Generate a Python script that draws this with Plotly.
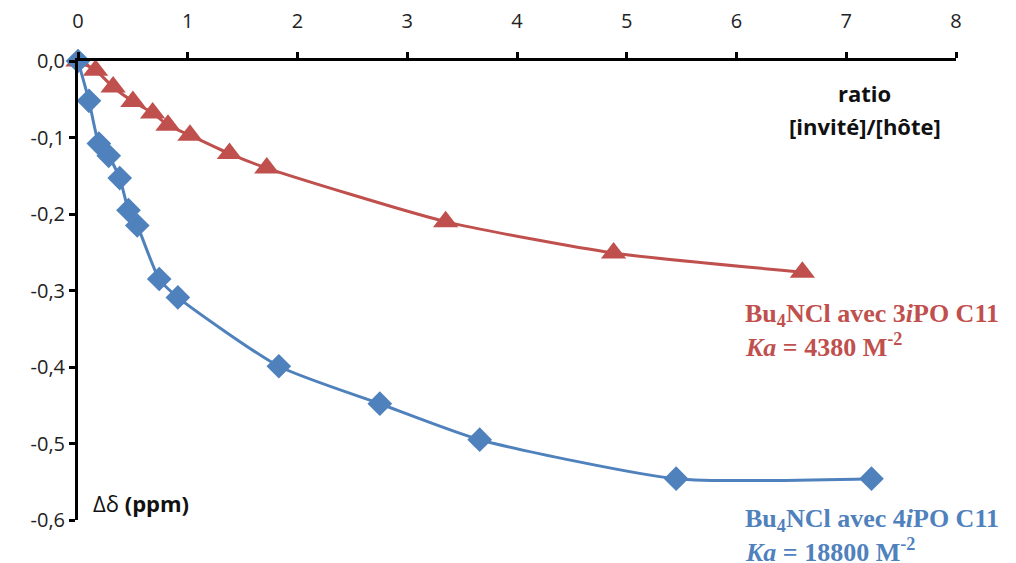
import plotly.graph_objects as go

# Blue series: Bu4NCl avec 4iPO C11
x_blue = [0, 0.10, 0.19, 0.28, 0.38, 0.46, 0.54, 0.74, 0.91, 1.83, 2.75, 3.66, 5.45, 7.23]
y_blue = [0, -0.052, -0.108, -0.124, -0.153, -0.195, -0.215, -0.285, -0.309, -0.399, -0.448, -0.495, -0.546, -0.546]

# Red series: Bu4NCl avec 3iPO C11
x_red = [0, 0.16, 0.32, 0.50, 0.68, 0.82, 1.02, 1.38, 1.72, 3.35, 4.88, 6.60]
y_red = [0, -0.012, -0.034, -0.053, -0.068, -0.084, -0.097, -0.121, -0.140, -0.210, -0.251, -0.276]

x_ticks = [0, 1, 2, 3, 4, 5, 6, 7, 8]
y_ticks = [0.0, -0.1, -0.2, -0.3, -0.4, -0.5, -0.6]
y_tick_labels = ["0,0", "-0,1", "-0,2", "-0,3", "-0,4", "-0,5", "-0,6"]

BLUE = "#4F81BD"
RED = "#C0504D"

fig = go.Figure()
fig.add_trace(go.Scatter(
    x=x_red, y=y_red, mode="lines+markers",
    line=dict(color=RED, width=3, shape="spline", smoothing=0.6),
    marker=dict(symbol="triangle-up", size=22, color=RED),
    cliponaxis=False, showlegend=False))
fig.add_trace(go.Scatter(
    x=x_blue, y=y_blue, mode="lines+markers",
    line=dict(color=BLUE, width=3, shape="spline", smoothing=0.6),
    marker=dict(symbol="diamond", size=19, color=BLUE),
    cliponaxis=False, showlegend=False))

tick_font = dict(family="Open Sans, Liberation Sans, sans-serif", size=20, color="#222")

fig.update_layout(
    width=1008, height=555,
    margin=dict(l=70, r=60, t=53, b=43),
    paper_bgcolor="white", plot_bgcolor="white",
    xaxis=dict(range=[0, 8], side="top", tickvals=x_ticks, ticks="outside",
               ticklen=6, tickwidth=3, tickcolor="black",
               showline=True, linecolor="black", linewidth=3,
               showgrid=False, zeroline=False, tickfont=tick_font,
               automargin=False, ticklabelstandoff=16),
    yaxis=dict(range=[-0.6, 0], tickvals=y_ticks, ticktext=y_tick_labels, ticks="outside",
               ticklen=6, tickwidth=3, tickcolor="black",
               showline=True, linecolor="black", linewidth=3,
               showgrid=False, zeroline=False, tickfont=tick_font,
               automargin=False),
)

ann_font = dict(family="Open Sans, Liberation Sans, sans-serif", size=22, color="#111")
serif_red = dict(family="Liberation Serif, Times New Roman, serif", size=26, color=RED)
serif_blue = dict(family="Liberation Serif, Times New Roman, serif", size=26, color=BLUE)

def ann(text, x, y, font, xanchor="left"):
    fig.add_annotation(xref="paper", yref="paper", x=x, y=y, xanchor=xanchor, yanchor="middle",
                       text=text, showarrow=False, font=font)

ann("<b>ratio</b>", 0.896, 0.930, ann_font, "center")
ann("<b>[invité]/[hôte]</b>", 0.896, 0.858, ann_font, "center")
ann("Δδ <b>(ppm)</b>", 0.015, 0.037, ann_font)
ann("<b>Bu<sub>4</sub>NCl avec 3<i>i</i>PO C11</b>", 0.757, 0.447, serif_red)
ann("<b><i>Ka</i> = 4380 M<sup>-2</sup></b>", 0.757, 0.381, serif_red)
ann("<b>Bu<sub>4</sub>NCl avec 4<i>i</i>PO C11</b>", 0.757, 0.0, serif_blue)
ann("<b><i>Ka</i> = 18800 M<sup>-2</sup></b>", 0.757, -0.066, serif_blue)

fig.write_html("out.html")
